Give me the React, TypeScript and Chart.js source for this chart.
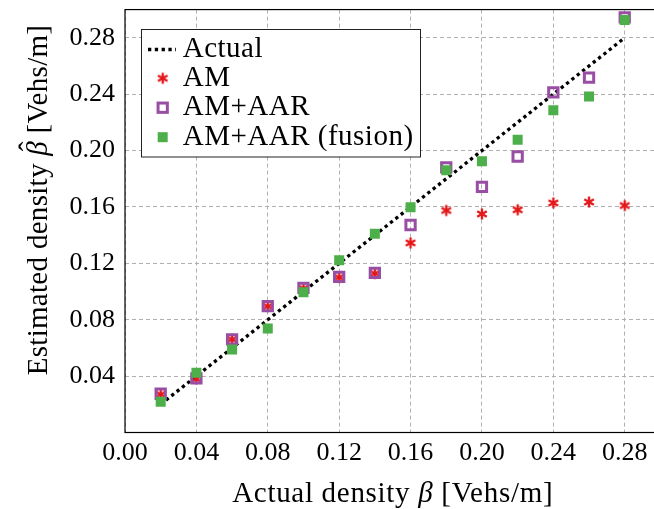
import React, { useEffect, useRef } from "react";
import { Chart, registerables } from "chart.js";

Chart.register(...registerables);

// ---------- data ----------
const xValues = [0.02, 0.04, 0.06, 0.08, 0.1, 0.12, 0.14, 0.16, 0.18, 0.2, 0.22, 0.24, 0.26, 0.28];
const actualX = [0.02, 0.28];
const actualY = [0.02, 0.28];
const amValues = [0.027, 0.038, 0.066, 0.0895, 0.1022, 0.11, 0.1128, 0.1345, 0.1575, 0.155, 0.158, 0.1628, 0.1635, 0.161];
const aarValues = [0.0275, 0.0384, 0.066, 0.0896, 0.1026, 0.1104, 0.1132, 0.1472, 0.188, 0.1743, 0.1958, 0.2413, 0.2517, 0.2945];
const fusionValues = [0.0219, 0.0424, 0.0589, 0.0738, 0.0995, 0.1222, 0.141, 0.1597, 0.186, 0.1925, 0.2076, 0.2286, 0.2383, 0.2926];
const xTicks = [0, 0.04, 0.08, 0.12, 0.16, 0.2, 0.24, 0.28];
const yTicks = [0.04, 0.08, 0.12, 0.16, 0.2, 0.24, 0.28];
const legendLabels = ["Actual", "AM", "AM+AAR", "AM+AAR (fusion)"];

const RED = "#e41a1c";
const PURPLE = "#984ea3";
const GREEN = "#4daf4a";
const SERIF = "'Liberation Serif', 'DejaVu Serif', serif";

function makeStar(): HTMLCanvasElement {
  const c = document.createElement("canvas");
  c.width = 14;
  c.height = 14;
  const g = c.getContext("2d")!;
  g.strokeStyle = RED;
  g.lineWidth = 2.4;
  const r = 5.5;
  for (let k = 0; k < 3; k++) {
    const a = Math.PI / 2 + (k * Math.PI) / 3;
    g.beginPath();
    g.moveTo(7 + r * Math.cos(a), 7 - r * Math.sin(a));
    g.lineTo(7 - r * Math.cos(a), 7 + r * Math.sin(a));
    g.stroke();
  }
  return c;
}

function drawSegments(ctx: CanvasRenderingContext2D, segs: { t: string; it?: boolean }[], cx: number, size: number, spacing: number, hatIndex = -1) {
  const widths: number[] = [];
  let total = 0;
  (ctx as any).letterSpacing = spacing + "px";
  for (const s of segs) {
    ctx.font = `${s.it ? "italic " : ""}${size}px ${SERIF}`;
    const w = ctx.measureText(s.t).width;
    widths.push(w);
    total += w;
  }
  let x = cx - total / 2;
  ctx.textAlign = "left";
  ctx.textBaseline = "alphabetic";
  segs.forEach((s, i) => {
    ctx.font = `${s.it ? "italic " : ""}${size}px ${SERIF}`;
    ctx.fillText(s.t, x, 0);
    if (i === hatIndex) {
      ctx.font = `${size}px ${SERIF}`;
      ctx.textAlign = "center";
      ctx.fillText("\u02C6", x + widths[i] / 2 + 2, -size * 0.27);
      ctx.textAlign = "left";
    }
    x += widths[i];
  });
  (ctx as any).letterSpacing = "0px";
}

const decorPlugin = {
  id: "decor",
  afterDraw(chart: any) {
    const { ctx, chartArea } = chart;
    const { left, right, top, bottom } = chartArea;
    ctx.save();
    // frame
    ctx.strokeStyle = "#000";
    ctx.lineWidth = 1.2;
    ctx.setLineDash([]);
    ctx.strokeRect(left, top, right - left, bottom - top);

    // legend
    const bx = 141.5, by = 29.5, bw = 279, bh = 127.5;
    ctx.fillStyle = "#fff";
    ctx.fillRect(bx, by, bw, bh);
    ctx.strokeStyle = "#222";
    ctx.lineWidth = 1;
    ctx.strokeRect(bx, by, bw, bh);
    const mx = 162.7;
    const baselines = [56.7, 86, 115.3, 144.6];
    // Actual dotted
    ctx.strokeStyle = "#000";
    ctx.lineWidth = 3.3;
    ctx.setLineDash([3.3, 3.5]);
    ctx.beginPath();
    ctx.moveTo(148, 49.5);
    ctx.lineTo(176, 49.5);
    ctx.stroke();
    ctx.setLineDash([]);
    // star
    const star = chart.data.datasets[1].pointStyle;
    ctx.drawImage(star, mx - 7, baselines[1] - 7.7 - 7);
    // open square
    ctx.strokeStyle = PURPLE;
    ctx.lineWidth = 3;
    ctx.strokeRect(mx - 4.65, baselines[2] - 7.6 - 4.65, 9.3, 9.3);
    // filled square
    ctx.fillStyle = GREEN;
    ctx.fillRect(mx - 5, baselines[3] - 7.4 - 5, 10, 10);
    // texts
    ctx.fillStyle = "#000";
    ctx.font = `29px ${SERIF}`;
    (ctx as any).letterSpacing = "0.5px";
    ctx.textAlign = "left";
    ctx.textBaseline = "alphabetic";
    legendLabels.forEach((l, i) => ctx.fillText(l, 182.7, baselines[i]));
    (ctx as any).letterSpacing = "0px";

    // x title
    ctx.save();
    ctx.translate(0, 501.5);
    drawSegments(ctx, [{ t: "Actual density " }, { t: "\u03B2", it: true }, { t: " [Vehs/m]" }], (left + right) / 2, 29, 0.7);
    ctx.restore();
    // y title
    ctx.save();
    ctx.translate(46.5, 200);
    ctx.rotate(-Math.PI / 2);
    drawSegments(ctx, [{ t: "Estimated density " }, { t: "\u03B2", it: true }, { t: " [Vehs/m]" }], 0, 29, 0.3, 1);
    ctx.restore();
    ctx.restore();
  },
};

export default function App() {
  const ref = useRef<HTMLCanvasElement>(null);
  useEffect(() => {
    if (!ref.current) return;
    const star = makeStar();
    const gridCommon = { color: "#b0b0b0", lineWidth: 1, drawTicks: false };
    const tickFont = { family: SERIF, size: 26 };
    const chart = new Chart(ref.current, {
      type: "scatter",
      data: {
        datasets: [
          {
            label: legendLabels[0],
            data: actualX.map((x, i) => ({ x, y: actualY[i] })),
            showLine: true,
            borderColor: "#000",
            borderWidth: 3.3,
            borderDash: [3.3, 3.5],
            borderCapStyle: "butt",
            pointRadius: 0,
            order: 4,
          },
          {
            label: legendLabels[1],
            data: xValues.map((x, i) => ({ x, y: amValues[i] })),
            pointStyle: star,
            pointRadius: 5.5,
            order: 3,
          },
          {
            label: legendLabels[2],
            data: xValues.map((x, i) => ({ x, y: aarValues[i] })),
            pointStyle: "rect",
            pointRadius: 6.58,
            borderWidth: 3,
            borderColor: PURPLE,
            backgroundColor: "rgba(0,0,0,0)",
            order: 2,
          },
          {
            label: legendLabels[3],
            data: xValues.map((x, i) => ({ x, y: fusionValues[i] })),
            pointStyle: "rect",
            pointRadius: 7.07,
            borderWidth: 0,
            backgroundColor: GREEN,
            order: 1,
          },
        ] as any,
      },
      options: {
        animation: false,
        responsive: false,
        devicePixelRatio: 1,
        layout: { padding: { top: 9.3, right: 7.5, left: 0, bottom: 0 } },
        plugins: { legend: { display: false }, tooltip: { enabled: false } },
        scales: {
          x: {
            type: "linear",
            min: 0,
            max: 0.3,
            afterBuildTicks: (s: any) => {
              s.ticks = xTicks.map((v) => ({ value: v }));
            },
            afterFit: (s: any) => {
              s.height = 509 - 432.5;
              s.paddingLeft = 0;
              s.paddingRight = 0;
            },
            ticks: {
              font: tickFont,
              color: "#000",
              padding: 5.2,
              maxRotation: 0,
              autoSkip: false,
              callback: (v: any) => Number(v).toFixed(2),
            },
            grid: gridCommon,
            border: { display: false, dash: [4, 3] },
          },
          y: {
            type: "linear",
            min: 0,
            max: 0.3,
            afterBuildTicks: (s: any) => {
              s.ticks = yTicks.map((v) => ({ value: v }));
            },
            afterFit: (s: any) => {
              s.width = 125;
              s.paddingTop = 0;
              s.paddingBottom = 0;
            },
            ticks: {
              font: tickFont,
              color: "#000",
              padding: 10,
              autoSkip: false,
              callback: (v: any) => Number(v).toFixed(2),
            },
            grid: gridCommon,
            border: { display: false, dash: [4, 3] },
          },
        },
      } as any,
      plugins: [decorPlugin],
    });
    return () => chart.destroy();
  }, []);
  return (
    <div style={{ position: "fixed", left: 0, top: 0, width: 654, height: 509, overflow: "hidden", background: "#fff" }}>
      <canvas ref={ref} width={670} height={509} style={{ display: "block", width: 670, height: 509 }} />
    </div>
  );
}
